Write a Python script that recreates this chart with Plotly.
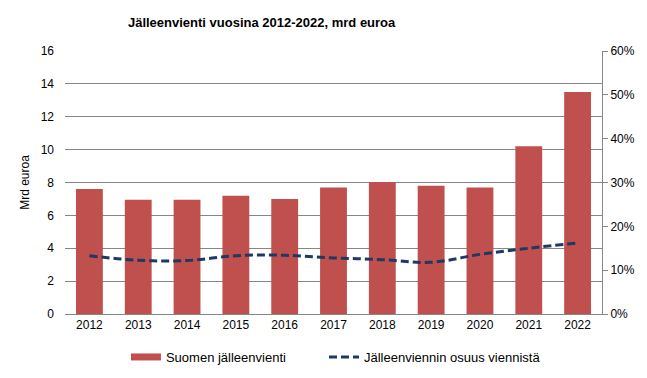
import plotly.graph_objects as go
from plotly.subplots import make_subplots

years = ["2012", "2013", "2014", "2015", "2016", "2017", "2018", "2019", "2020", "2021", "2022"]
reexport_bn = [7.6, 6.95, 6.95, 7.2, 7.0, 7.7, 8.03, 7.8, 7.7, 10.2, 13.5]
share_of_exports = [0.133, 0.1225, 0.122, 0.133, 0.134, 0.128, 0.124, 0.118, 0.136, 0.150, 0.162]

bar_color = "#C0504D"
line_color = "#1F3864"

fig = make_subplots(specs=[[{"secondary_y": True}]])
fig.add_trace(go.Bar(x=years, y=reexport_bn, name="Suomen jälleenvienti", showlegend=False,
                     marker=dict(color=bar_color, line=dict(width=0))),
              secondary_y=False)
# legend proxy (wide flat rectangle like the reference legend key)
fig.add_trace(go.Scatter(x=[None], y=[None], name="Suomen jälleenvienti", mode="lines",
                         line=dict(color=bar_color, width=7), legend="legend"),
              secondary_y=False)
fig.add_trace(go.Scatter(x=years, y=share_of_exports, name="Jälleenviennin osuus viennistä",
                         mode="lines", legend="legend2",
                         line=dict(color=line_color, width=3, dash="8px,4px", shape="spline")),
              secondary_y=True)

font = "Liberation Sans, Arial, sans-serif"
legend_common = dict(orientation="h", xref="container", yref="container",
                     xanchor="left", y=0.0767, yanchor="middle",
                     font=dict(size=13), itemwidth=30, bgcolor="rgba(0,0,0,0)")
fig.update_layout(
    width=647, height=378,
    margin=dict(l=57, r=53, t=43, b=72),
    paper_bgcolor="white", plot_bgcolor="white",
    font=dict(family=font, size=12, color="black"),
    title=dict(text="<b>Jälleenvienti vuosina 2012-2022, mrd euroa</b>", x=0.392, xanchor="center",
               y=0.961, yanchor="middle", font=dict(size=13, family=font)),
    bargap=0.45,
    showlegend=True,
    legend=dict(x=0.1823, **legend_common),
    legend2=dict(x=0.4884, **legend_common),
)
fig.update_xaxes(domain=[0, 1], showgrid=False, showline=True, linecolor="#868686", linewidth=1,
                 ticks="", tickfont=dict(size=12), automargin=False)
fig.update_yaxes(range=[0, 16], dtick=2, showgrid=True, gridcolor="#868686", gridwidth=1,
                 zeroline=False, showline=False, ticks="", ticklabelstandoff=10,
                 title=dict(text="Mrd euroa", font=dict(size=12), standoff=8),
                 automargin=False, secondary_y=False)
fig.update_yaxes(range=[0, 0.6], dtick=0.1, tickformat=".0%", showgrid=False, zeroline=False,
                 showline=True, linecolor="#868686", linewidth=1, ticks="outside", ticklen=5,
                 tickcolor="#868686", automargin=False, secondary_y=True)

fig.write_html("out.html")
